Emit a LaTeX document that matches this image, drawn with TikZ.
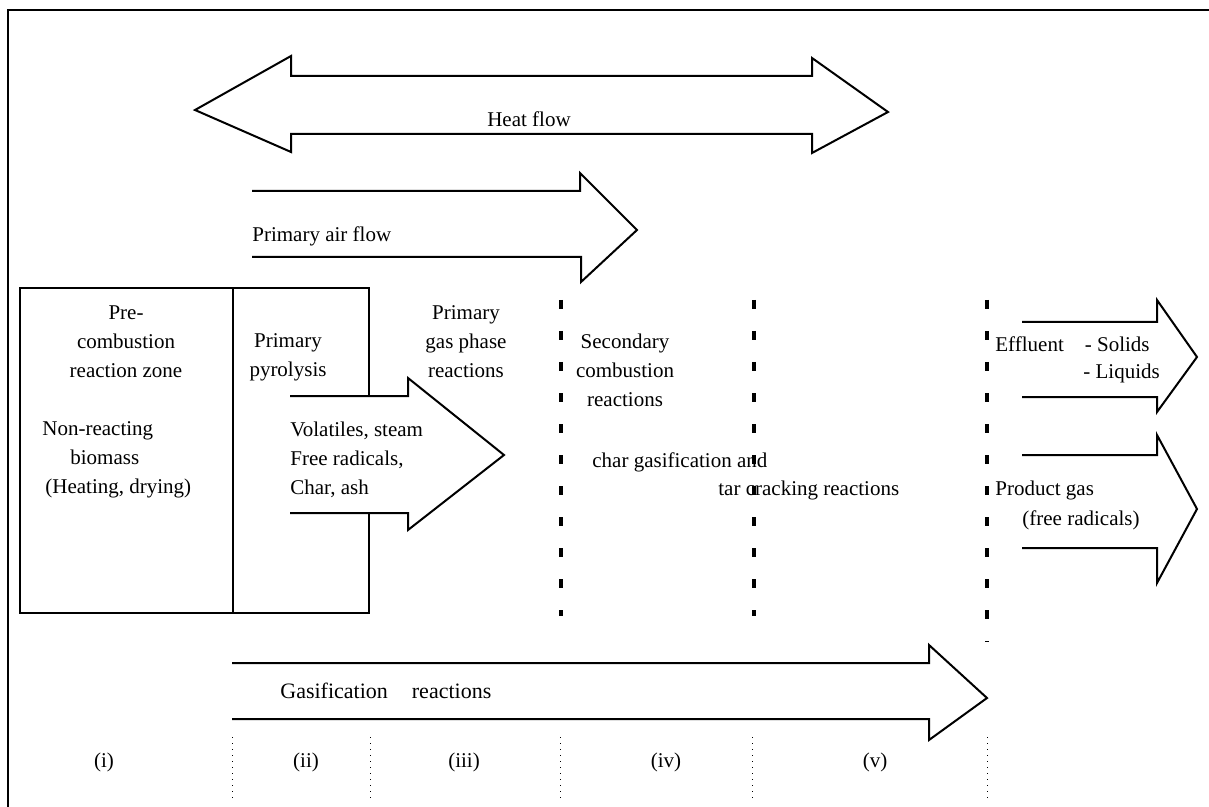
\documentclass[tikz,border=0pt]{standalone}
\usepackage{fontspec}
\setmainfont{Liberation Serif}
\begin{document}
\begin{tikzpicture}[x=0.5pt,y=-0.5pt,
  font=\fontsize{10.5}{14.5}\selectfont,
  blockpfeil/.style={line width=1pt, line join=miter},
  zonendash/.style={line width=2pt, dash pattern=on 4.5pt off 11pt},
  trenner/.style={line width=0.4pt, dash pattern=on 0.6pt off 2.4pt}]
\useasboundingbox (0,0) rectangle (1209,807);
% Rahmen
\draw[line width=1.2pt] (8,807) -- (8,10) -- (1209,10);
% Kasten
\draw[line width=1pt] (369,396) -- (369,288) -- (20,288) -- (20,613) -- (369,613) -- (369,513);
\draw[line width=1pt] (233,288) -- (233,613);
% Pfeile
\draw[blockpfeil] (195,110) -- (291,56) -- (291,76) -- (812,76) -- (812,58) -- (888,112)
  -- (812,153) -- (812,134) -- (291,134) -- (291,152) -- cycle;
\draw[blockpfeil] (252,191) -- (580,191) -- (580,173) -- (637,230) -- (581,282) -- (581,257) -- (252,257);
\draw[blockpfeil] (290,396) -- (408,396) -- (408,378) -- (504,455) -- (408,530) -- (408,513) -- (290,513);
\draw[blockpfeil] (1022,322) -- (1157,322) -- (1157,300) -- (1197,357) -- (1157,412) -- (1157,397) -- (1022,397);
\draw[blockpfeil] (1022,455) -- (1157,455) -- (1157,435) -- (1197,509) -- (1157,583) -- (1157,548) -- (1022,548);
\draw[blockpfeil] (232,663) -- (929,663) -- (929,645) -- (987,698) -- (929,740) -- (929,719) -- (232,719);
% Zonen
\draw[zonendash] (561,300) -- (561,616);
\draw[zonendash] (754,300) -- (754,616);
\draw[zonendash] (987,300) -- (987,642);
\foreach \x in {232,370,560,752,987}
  \draw[trenner] (\x,737) -- (\x,800);
% Beschriftungen
\node (HF) at (529,119) {Heat flow};
\node[anchor=west, inner sep=0] (PA) at (252,236) {Primary air flow};
\node[align=center] (PC) at (126,342) {Pre-\\combustion\\reaction zone};
\node[align=left, anchor=west, inner sep=0] (NR) at (42,460) {Non-reacting\\\hspace{14pt}biomass\\\hspace{1.5pt}(Heating, drying)};
\node[align=center] (PP) at (288,357) {Primary\\pyrolysis};
\node[align=center] (GP) at (466,342) {Primary\\gas phase\\reactions};
\node[align=left, anchor=west, inner sep=0] (VS) at (290,460) {Volatiles, steam\\Free radicals,\\Char, ash};
\node[align=center] (SC) at (625,370) {Secondary\\combustion\\reactions};
\node[anchor=west, inner sep=0] (CG) at (592,462) {char gasification and};
\node[anchor=west, inner sep=0] (TC) at (718,490) {tar cracking reactions};
\node[anchor=west, inner sep=0] (EF) at (995,344) {Effluent\quad- Solids};
\node[anchor=west, inner sep=0] (LQ) at (1083,373) {- Liquids};
\node[anchor=west, inner sep=0] (PG) at (995,490) {Product gas};
\node[anchor=west, inner sep=0] (FR) at (1022,520) {(free radicals)};
\node[anchor=west, inner sep=0, font=\fontsize{11}{14}\selectfont] (GR) at (280,691) {Gasification\hspace{12pt}reactions};
\foreach \x/\t in {104/i,306/ii,464/iii,666/iv,875/v}
  \node (Z\t) at (\x,762) {(\t)};
\end{tikzpicture}
\end{document}
